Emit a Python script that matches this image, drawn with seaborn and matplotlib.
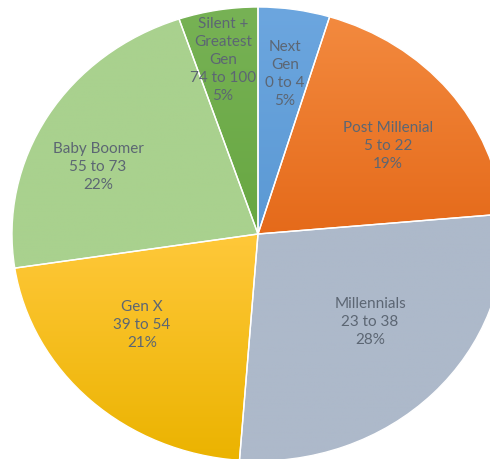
import numpy as np
import seaborn as sns
import matplotlib.pyplot as plt
from matplotlib.colors import LinearSegmentedColormap

# generations, clockwise from 12 o'clock
names = ["Next\nGen", "Post Millenial", "Millennials", "Gen X", "Baby Boomer", "Silent +\nGreatest\nGen"]
ages = ["0 to 4", "5 to 22", "23 to 38", "39 to 54", "55 to 73", "74 to 100"]
shares = [4.7, 18.9, 27.6, 21.4, 22.2, 5.2]

# fill colours (top, bottom) of each slice gradient
top_colors = ["#6CA6DF", "#F38A3F", "#ADB9CA", "#FFC83A", "#A9D18E", "#77B255"]
bottom_colors = ["#5B99D4", "#E56A1A", "#ADB9CA", "#EBB300", "#A9D18E", "#68A742"]

# label centres in pixels (x, y from top)
label_pos = [(285, 74), (388, 146), (370, 322), (142, 325), (98, 167), (223, 60)]

W, H = 490, 460
cx, cy, rx, ry = 258, 235, 246, 227

sns.set_theme(style="white")
plt.rcParams["font.family"] = ["Lato", "DejaVu Sans"]

fig = plt.figure(figsize=(W / 100, H / 100), dpi=100)
ax = fig.add_axes([0, 0, 1, 1])

wedges, _ = ax.pie(shares, startangle=90, counterclock=False, radius=1,
                   colors=top_colors,
                   wedgeprops=dict(edgecolor="white", linewidth=1.0))

for w, ct, cb in zip(wedges, top_colors, bottom_colors):
    ext = w.get_path().get_extents()
    cmap = LinearSegmentedColormap.from_list("g", [cb, ct])
    grad = np.linspace(0, 1, 256).reshape(-1, 1)
    im = ax.imshow(grad, cmap=cmap, origin="lower", aspect="auto",
                   extent=[ext.x0, ext.x1, ext.y0, ext.y1], zorder=2)
    im.set_clip_path(w)
    w.set_facecolor("none")
    w.set_zorder(3)

# stretch the pie so it fills the frame like the original
ax.set_aspect("auto")
ax.set_xlim((0 - cx) / rx, (W - cx) / rx)
ax.set_ylim(-(H - cy) / ry, cy / ry)
ax.axis("off")

for name, age, s, (px, py) in zip(names, ages, shares, label_pos):
    ax.text(px / W, 1 - py / H, f"{name}\n{age}\n{round(s)}%",
            transform=ax.transAxes, ha="center", va="center",
            fontsize=11, color="#5C6673", linespacing=1.38, zorder=5)

plt.savefig("out.png", dpi=100)
plt.close()
